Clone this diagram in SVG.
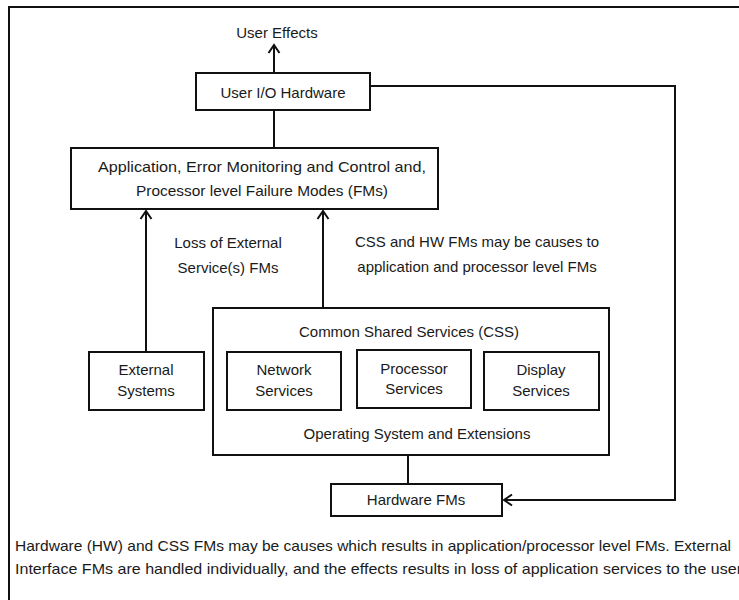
<svg xmlns="http://www.w3.org/2000/svg" width="739" height="600" viewBox="0 0 739 600">
  <style>
    .box { fill: #ffffff; stroke: #111111; stroke-width: 2; }
    .wire { fill: none; stroke: #111111; stroke-width: 2; }
    text { font-family: "Liberation Sans", Arial, sans-serif; font-size: 15px; fill: #1a1a1a; }
    .c { text-anchor: middle; }
  </style>
  <defs>
    <marker id="arrow" markerUnits="userSpaceOnUse" markerWidth="14" markerHeight="14" viewBox="-9 -7 11 14" refX="0" refY="0" orient="auto">
      <path d="M-8,-5.5 L0,0 L-8,5.5" fill="none" stroke="#111111" stroke-width="2"/>
    </marker>
  </defs>

  <rect width="739" height="600" fill="#ffffff"/>
  <!-- outer frame: top and left edges only -->
  <path d="M9,600 V7 H739" fill="none" stroke="#111111" stroke-width="2"/>

  <text class="c" x="277" y="38">User Effects</text>

  <g id="connectors">
    <line class="wire" x1="274" y1="73" x2="274" y2="45" marker-end="url(#arrow)"/>
    <line class="wire" x1="274" y1="110" x2="274" y2="148"/>
    <line class="wire" x1="146" y1="352" x2="146" y2="211" marker-end="url(#arrow)"/>
    <line class="wire" x1="323" y1="308" x2="323" y2="211" marker-end="url(#arrow)"/>
    <line class="wire" x1="408" y1="455" x2="408" y2="484"/>
    <polyline class="wire" points="370,86 675,86 675,500 504,500" marker-end="url(#arrow)"/>
  </g>

  <g id="user-io">
    <rect class="box" x="196" y="73" width="174" height="37"/>
    <text class="c" x="283" y="98">User I/O Hardware</text>
  </g>

  <g id="application">
    <rect class="box" x="71" y="148" width="367" height="61"/>
    <text class="c" x="262" y="172" textLength="328" lengthAdjust="spacingAndGlyphs">Application, Error Monitoring and Control and,</text>
    <text class="c" x="262" y="196" textLength="252" lengthAdjust="spacingAndGlyphs">Processor level Failure Modes (FMs)</text>
  </g>

  <g id="label-external">
    <text class="c" x="228" y="248">Loss of External</text>
    <text class="c" x="228" y="273">Service(s) FMs</text>
  </g>

  <g id="label-css">
    <text class="c" x="477" y="247">CSS and HW FMs may be causes to</text>
    <text class="c" x="477" y="272">application and processor level FMs</text>
  </g>

  <g id="external-systems">
    <rect class="box" x="89" y="352" width="115" height="58"/>
    <text class="c" x="146" y="375">External</text>
    <text class="c" x="146" y="396">Systems</text>
  </g>

  <g id="css">
    <rect class="box" x="213" y="308" width="396" height="147"/>
    <text class="c" x="409" y="337">Common Shared Services (CSS)</text>
    <text class="c" x="417" y="439">Operating System and Extensions</text>
  </g>

  <g id="network-services">
    <rect class="box" x="227" y="352" width="114" height="58"/>
    <text class="c" x="284" y="375">Network</text>
    <text class="c" x="284" y="396">Services</text>
  </g>

  <g id="processor-services">
    <rect class="box" x="357" y="350" width="114" height="58"/>
    <text class="c" x="414" y="374">Processor</text>
    <text class="c" x="414" y="394">Services</text>
  </g>

  <g id="display-services">
    <rect class="box" x="484" y="352" width="115" height="58"/>
    <text class="c" x="541" y="375">Display</text>
    <text class="c" x="541" y="396">Services</text>
  </g>

  <g id="hardware-fms">
    <rect class="box" x="331" y="484" width="171" height="32"/>
    <text class="c" x="416" y="505">Hardware FMs</text>
  </g>

  <text x="15" y="551" textLength="716" lengthAdjust="spacingAndGlyphs">Hardware (HW) and CSS FMs may be causes which results in application/processor  level FMs. External</text>
  <text x="15" y="574" textLength="727" lengthAdjust="spacingAndGlyphs">Interface FMs are handled individually, and the effects results in loss of application services to the user</text>
</svg>
